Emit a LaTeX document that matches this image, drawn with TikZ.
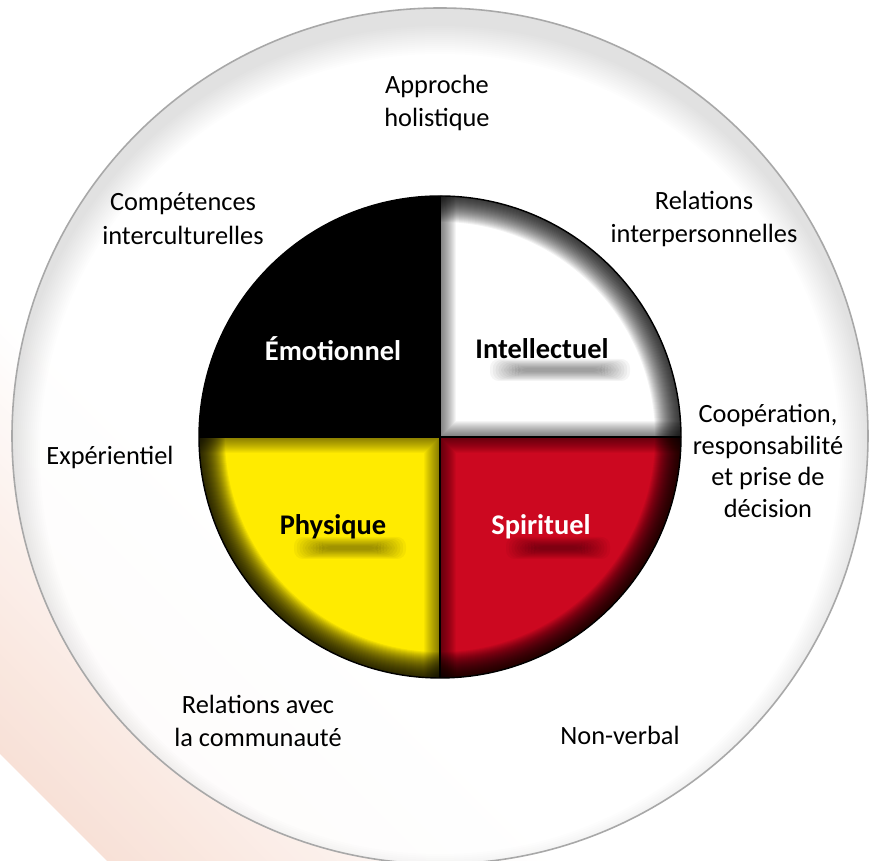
\documentclass[tikz,border=0pt]{standalone}
\usepackage{fontspec}
\setmainfont{Carlito}
\usetikzlibrary{calc}
\definecolor{pinkbg}{RGB}{248,225,215}
\definecolor{wyellow}{RGB}{255,235,0}
\definecolor{wred}{RGB}{204,8,32}
\definecolor{rimgray}{RGB}{168,168,168}
\tikzset{
  lbl/.style={align=center, font=\fontsize{15}{19.3}\selectfont, text=black, inner sep=0pt},
  lblcoop/.style={align=center, font=\fontsize{15}{17.9}\selectfont, text=black, inner sep=0pt},
  qlbl/.style={font=\fontsize{16.2}{19}\selectfont\bfseries, inner sep=0pt},
}
% #1 start angle, #2 base colour, #3 arc glow opacity, #4 edge glow opacity
\newcommand\wheelquad[4]{%
  \begin{scope}
    \clip (C) -- ++(#1:241) arc[start angle=#1, delta angle=90, radius=241] -- cycle;
    \fill[#2] (C) circle (245);
    \foreach \k in {1,...,16} {
      \pgfmathsetmacro\lw{\k*1.134}
      \draw[black, opacity=#4, line width=\lw pt, line join=miter]
        ($(C)+(#1:250)$) -- (C) -- ($(C)+(#1+90:250)$);
    }
    \foreach \k in {1,...,26} {
      \pgfmathsetmacro\lw{\k*1.134}
      \draw[black, opacity=#3, line width=\lw pt]
        ($(C)+(#1-5:241)$) arc[start angle=#1-5, delta angle=100, radius=241];
    }
  \end{scope}}
% blurred flattened shadow under a label: #1 centre, #2 half width
\newcommand\txtshadow[2]{%
  \foreach \k in {0,...,10} {
    \pgfmathsetmacro\hw{#2+6-\k*2.8}
    \pgfmathsetmacro\hh{11-\k*0.9}
    \fill[black, opacity=0.04, rounded corners=5pt]
      ($(#1)+(-\hw,-\hh)$) rectangle ($(#1)+(\hw,\hh)$);
  }}
\begin{document}
\begin{tikzpicture}[x=0.02cm,y=0.02cm]
\useasboundingbox (0,0) rectangle (870,861);
\fill[white] (0,0) rectangle (870,861);
% background diagonal band
\begin{scope}
  \clip (0,0) rectangle (870,861);
  \foreach \i in {0,...,44} {
    \pgfmathsetmacro\c{107+\i*10}
    \pgfmathsetmacro\p{max(0,100-\i*2.3)}
    \fill[pinkbg!\p!white] (\c,0) -- (\c+11,0) -- (\c+11-1000,1000) -- (\c-1000,1000) -- cycle;
  }
\end{scope}
% outer circle
\coordinate (O) at (440,425);
\coordinate (O2) at (440,407);
\fill[white, opacity=0.88] (O) circle (428);
\begin{scope}
  \clip (O) circle (428);
  \foreach \k in {0,...,14} {
    \fill[black, opacity=0.009, even odd rule] (O) circle (440) (O2) circle ({428-\k*2});
  }
\end{scope}
\draw[rimgray, line width=0.9pt] (O) circle (428);
% wheel
\coordinate (C) at (440,424);
\fill[black] (C) -- ++(90:241) arc[start angle=90, delta angle=90, radius=241] -- cycle;
\wheelquad{0}{white}{0.052}{0.04}
\wheelquad{180}{wyellow}{0.06}{0.035}
\wheelquad{270}{wred}{0.06}{0.04}
\draw[black, line width=0.8pt] (C) circle (241);
\draw[black, line width=1.1pt] ($(C)+(0,241)$) -- ($(C)+(0,-241)$);
\draw[black, line width=1.1pt] ($(C)+(-241,0)$) -- ($(C)+(241,0)$);
% label shadows
\coordinate (shI) at (560,491);
\coordinate (shP) at (350,313);
\coordinate (shS) at (558,313);
\txtshadow{shI}{64}
\txtshadow{shP}{50}
\txtshadow{shS}{46}
% quadrant labels
\node[qlbl, text=white] (emo) at (333,512) {Émotionnel};
\node[qlbl, text=black] (intel) at (542,512) {Intellectuel};
\node[qlbl, text=black] (phys) at (333,334) {Physique};
\node[qlbl, text=white] (spir) at (541,334) {Spirituel};
% outer labels
\node[lbl] (appr) at (437,758) {Approche\\holistique};
\node[lbl] (comp) at (183,642) {Compétences\\interculturelles};
\node[lbl] (relint) at (704,642) {Relations\\interpersonnelles};
\node[lbl] (exper) at (110,404) {Expérientiel};
\node[lblcoop] (coop) at (768,400) {Coopération,\\responsabilité\\et prise de\\décision};
\node[lbl] (relcom) at (258,140) {Relations avec\\la communauté};
\node[lbl] (nonv) at (620,126) {Non-verbal};
\end{tikzpicture}
\end{document}
